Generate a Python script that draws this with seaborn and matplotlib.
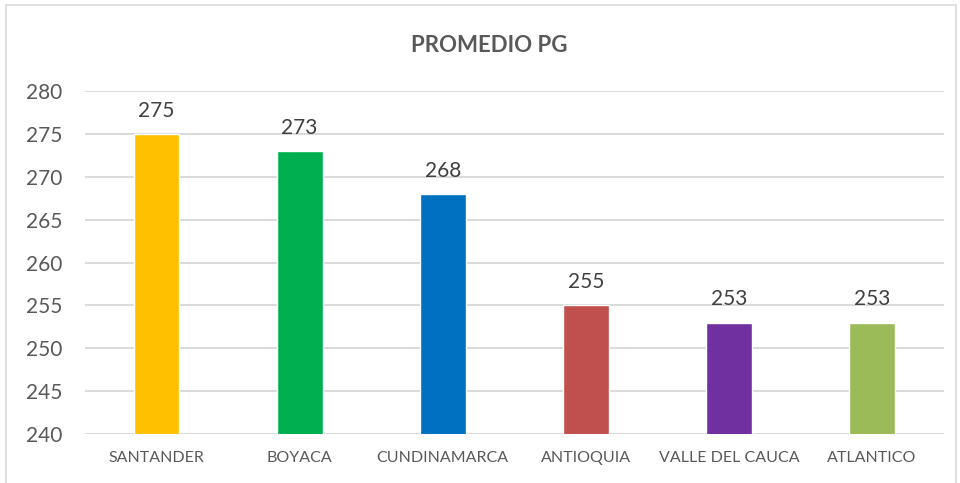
import pandas as pd
import seaborn as sns
import matplotlib.pyplot as plt
from matplotlib.patches import Rectangle

# Data
departamentos = ["SANTANDER", "BOYACA", "CUNDINAMARCA", "ANTIOQUIA", "VALLE DEL CAUCA", "ATLANTICO"]
promedio = [275, 273, 268, 255, 253, 253]
colores = ["#FFC000", "#00B050", "#0070C0", "#C0504D", "#7030A0", "#9BBB59"]
y_ticks = [240, 245, 250, 255, 260, 265, 270, 275, 280]

df = pd.DataFrame({"depto": departamentos, "pg": promedio})

sns.set_style("white")
plt.rcParams["font.family"] = ["Lato", "DejaVu Sans"]

fig = plt.figure(figsize=(9.6, 4.83), dpi=100)
ax = fig.add_axes([0.0885, 0.1014, 0.8945, 0.7102])

sns.barplot(x="depto", y="pg", data=df, hue="depto", palette=colores, legend=False,
            width=0.32, ax=ax, saturation=1)

ax.set_ylim(240, 280)
ax.set_yticks(y_ticks)
ax.set_xlim(-0.5, len(departamentos) - 0.5)
ax.set_xlabel(None)
ax.set_ylabel(None)
ax.yaxis.grid(True, color="#d9d9d9", linewidth=1.4)
ax.set_axisbelow(True)
for s in ax.spines.values():
    s.set_visible(False)
ax.tick_params(axis="y", labelsize=15, colors="#595959", length=0, pad=16)
ax.tick_params(axis="x", labelsize=11.5, colors="#595959", length=0, pad=12)

# values above bars
for p, v in zip(ax.patches, promedio):
    ax.annotate(str(v), (p.get_x() + p.get_width() / 2, v + 2.7), ha="center", va="center",
                fontsize=15, color="#404040")

fig.text(0.51, 0.905, "PROMEDIO PG", ha="center", va="center", fontsize=16,
         fontweight="bold", color="#595959")

# chart border (runs off the bottom like the reference)
fig.patches.append(Rectangle((0.006, -0.02), 0.99, 1.01, transform=fig.transFigure,
                             fill=False, edgecolor="#d9d9d9", linewidth=1.2))

plt.savefig("out.png", dpi=100)
plt.close()
